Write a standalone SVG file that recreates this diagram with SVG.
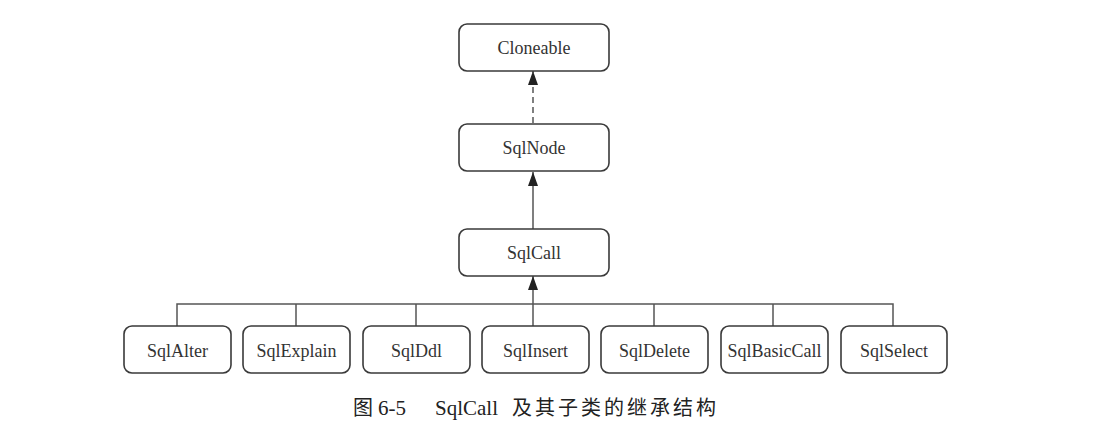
<svg xmlns="http://www.w3.org/2000/svg" width="1101" height="440" viewBox="0 0 1101 440">
<style>
.box{fill:#fff;stroke:#3a3a3a;stroke-width:1.6}
.t{font-family:"Liberation Serif","Times New Roman",serif;font-size:18px;fill:#333;text-anchor:middle}
.ln{stroke:#555;stroke-width:1.5;fill:none}
.cap{font-family:"Liberation Serif","Noto Sans CJK SC",serif;font-size:21px;fill:#222}
.capz{font-family:"Noto Sans CJK SC","Liberation Serif",serif;font-size:20px;fill:#222;letter-spacing:3px}
</style>
<defs>
<marker id="arr" viewBox="0 0 14 10" refX="14" refY="5" markerWidth="14" markerHeight="10" markerUnits="userSpaceOnUse" orient="auto">
<path d="M0,0 L14,5 L0,10 Z" fill="#222"/>
</marker>
</defs>
<rect width="1101" height="440" fill="#fff"/>
<g id="connectors">
<line class="ln" x1="533" y1="123" x2="533" y2="71" stroke-dasharray="6,4" marker-end="url(#arr)"/>
<line class="ln" x1="533" y1="229" x2="533" y2="172" marker-end="url(#arr)"/>
<line class="ln" x1="533" y1="326" x2="533" y2="276" marker-end="url(#arr)"/>
<polyline class="ln" points="177,326 177,304 893,304 893,326"/>
<line class="ln" x1="296" y1="304" x2="296" y2="326"/>
<line class="ln" x1="416" y1="304" x2="416" y2="326"/>
<line class="ln" x1="654" y1="304" x2="654" y2="326"/>
<line class="ln" x1="773" y1="304" x2="773" y2="326"/>
</g>
<g id="cloneable"><rect class="box" x="459" y="24" width="150" height="47" rx="8"/><text class="t" x="534" y="54">Cloneable</text></g>
<g id="sqlnode"><rect class="box" x="459" y="124" width="150" height="47" rx="8"/><text class="t" x="534" y="154">SqlNode</text></g>
<g id="sqlcall"><rect class="box" x="459" y="229" width="150" height="47" rx="8"/><text class="t" x="534" y="259">SqlCall</text></g>
<g id="sqlalter"><rect class="box" x="124" y="326" width="107" height="47" rx="8"/><text class="t" x="177.5" y="357">SqlAlter</text></g>
<g id="sqlexplain"><rect class="box" x="243" y="326" width="107" height="47" rx="8"/><text class="t" x="296.5" y="357">SqlExplain</text></g>
<g id="sqlddl"><rect class="box" x="363" y="326" width="107" height="47" rx="8"/><text class="t" x="416.5" y="357">SqlDdl</text></g>
<g id="sqlinsert"><rect class="box" x="482" y="326" width="107" height="47" rx="8"/><text class="t" x="535.5" y="357">SqlInsert</text></g>
<g id="sqldelete"><rect class="box" x="601" y="326" width="107" height="47" rx="8"/><text class="t" x="654.5" y="357">SqlDelete</text></g>
<g id="sqlbasiccall"><rect class="box" x="721" y="326" width="107" height="47" rx="8"/><text class="t" x="774.5" y="357">SqlBasicCall</text></g>
<g id="sqlselect"><rect class="box" x="841" y="326" width="106" height="47" rx="8"/><text class="t" x="894" y="357">SqlSelect</text></g>
<g id="caption">
<text class="capz" x="353" y="415">图</text>
<text class="cap" x="378" y="415">6-5</text>
<text class="cap" x="435" y="415">SqlCall</text>
<text class="capz" x="512" y="415">及其子类的继承结构</text>
</g>
</svg>
